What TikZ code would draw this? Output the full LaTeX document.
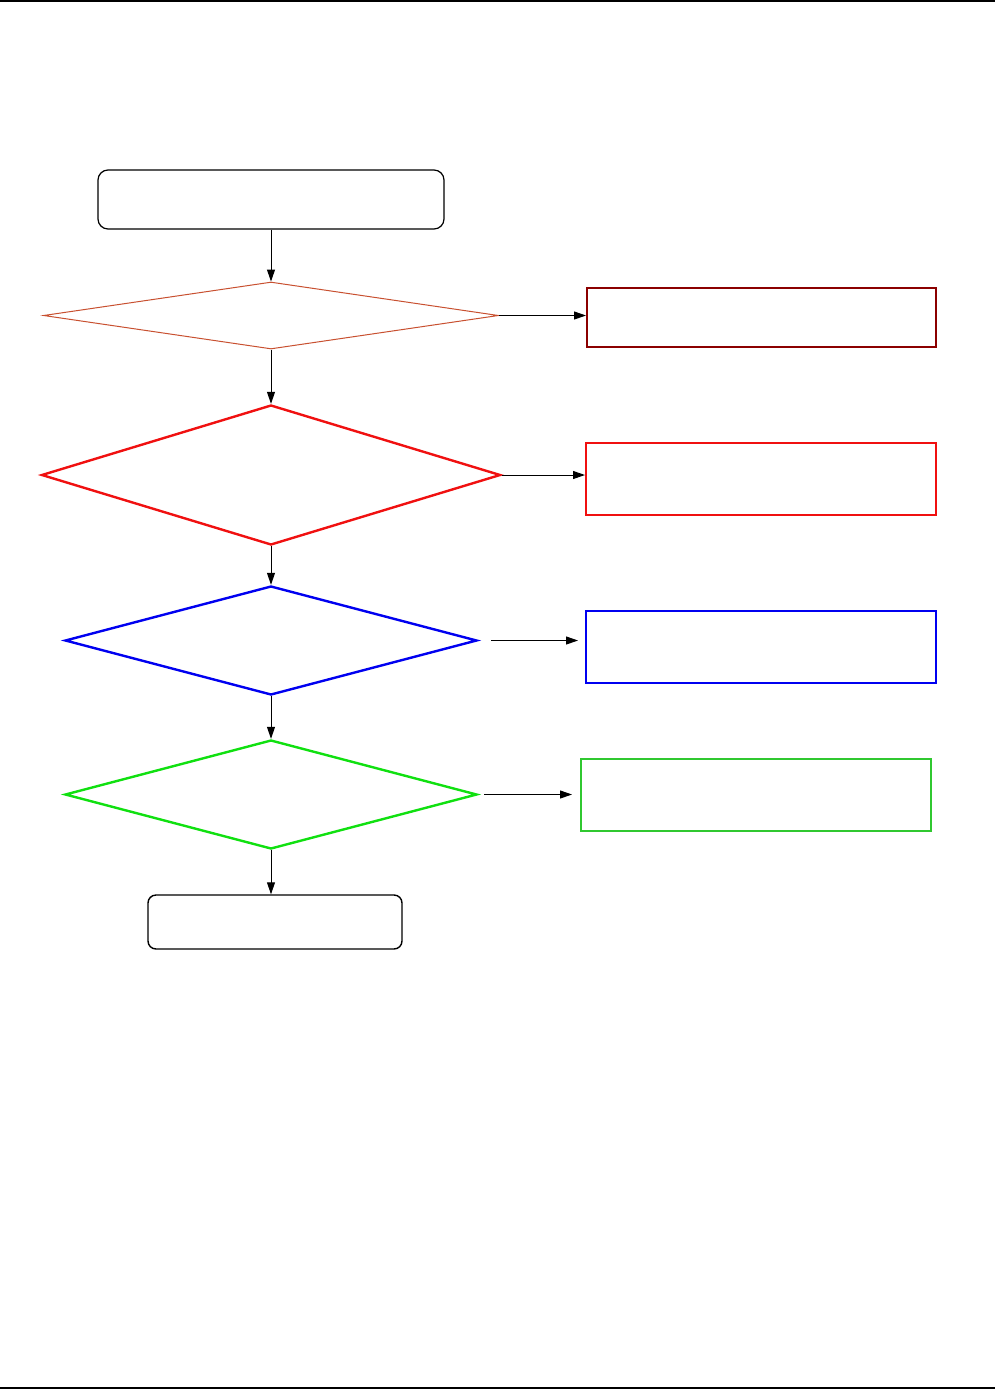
\documentclass[tikz,border=0pt]{standalone}
\usetikzlibrary{shapes.geometric,arrows.meta}
\definecolor{darkred}{HTML}{8B0000}
\definecolor{brightred}{HTML}{F01010}
\definecolor{brightblue}{HTML}{0000F0}
\definecolor{brightgreen}{HTML}{10E010}
\definecolor{boxgreen}{HTML}{30C830}
\definecolor{sienna}{HTML}{C85030}
\tikzset{
  flow/.style={black, line width=1pt, -{Triangle[length=12pt,width=8pt]}},
  check/.style={diamond, draw, line width=2.4pt, inner sep=0pt},
  result/.style={rectangle, draw, line width=2.4pt, anchor=north west, inner sep=0pt}
}
\begin{document}
\begin{tikzpicture}[x=1pt,y=-1pt]
            \useasboundingbox (0,0) rectangle (995,1390);
            \draw[black, line width=1.2pt](0,1) -- (995,1);
            \draw[black, line width=1.2pt](0,1388) -- (995,1388);
            % start and end
            \node[draw, rounded corners=10pt, line width=1.2pt, minimum width=346pt, minimum height=59pt, inner sep=0pt] (start) at (271,199.5) {};
            \node[draw, rounded corners=8pt, line width=1.4pt, minimum width=254pt, minimum height=54pt, inner sep=0pt] (stop) at (275,922) {};
            % checks
            \node[check, sienna, line width=1pt, minimum width=455pt, minimum height=67pt] (chkA) at (271,315.5) {};
            \node[check, brightred, minimum width=459pt, minimum height=140pt] (chkB) at (271,475) {};
            \node[check, brightblue, minimum width=412pt, minimum height=109pt] (chkC) at (271,640.5) {};
            \node[check, brightgreen, minimum width=412pt, minimum height=109pt] (chkD) at (271,794.5) {};
            % results
            \node[result, darkred, minimum width=349pt, minimum height=59pt] (resA) at (586,287) {};
            \node[result, brightred, minimum width=350pt, minimum height=72pt] (resB) at (585,442) {};
            \node[result, brightblue, minimum width=350pt, minimum height=72pt] (resC) at (585,610) {};
            \node[result, boxgreen, minimum width=350pt, minimum height=72pt] (resD) at (580,758) {};
            % flow down
            \draw[flow] (start.south) -- (chkA.north);
            \draw[flow] (chkA.south) -- (chkB.north);
            \draw[flow] (chkB.south) -- (chkC.north);
            \draw[flow] (chkC.south) -- (chkD.north);
            \draw[flow] (chkD.south) -- (chkD.south |- stop.north);
            % flow right
            \draw[flow] (chkA.east) -- (chkA.east -| resA.west);
            \draw[flow] (chkB.east) -- (chkB.east -| resB.west);
            \draw[flow, shorten <=13pt, shorten >=7pt] (chkC.east) -- (chkC.east -| resC.west);
            \draw[flow, shorten <=6pt, shorten >=8pt] (chkD.east) -- (chkD.east -| resD.west);
        \end{tikzpicture}
\end{document}
